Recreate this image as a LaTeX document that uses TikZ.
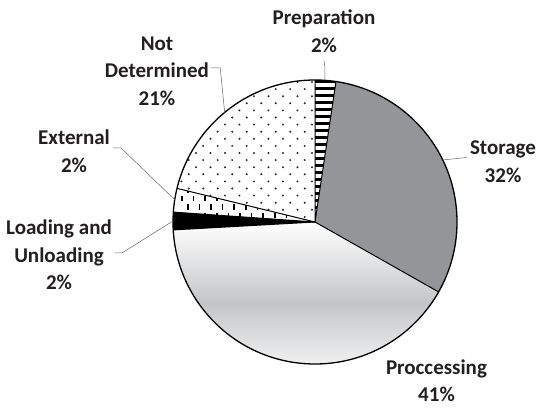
\documentclass[tikz,border=0pt]{standalone}
\usepackage{fontspec}
\setmainfont{Carlito}
\definecolor{storgray}{RGB}{147,149,152}
\definecolor{procmid}{RGB}{196,197,199}
\definecolor{txt}{RGB}{35,31,32}
\begin{document}
\begin{tikzpicture}[x=1pt,y=1pt,
  lbl/.style={font=\bfseries\fontsize{21}{27.5}\selectfont, align=center, text=txt, inner sep=0pt},
  leader/.style={draw=gray!80!black, line width=0.5pt},
  sliceline/.style={draw=black, line width=1pt, line join=round},
  rim/.style={draw=black, line width=1.3pt}]
\useasboundingbox (0,0) rectangle (538,407);
\coordinate (c) at (315,185);
\def\R{142}
\begin{scope}[shift={(c)}]
  % Processing (gradient)
  \shade[top color=white, bottom color=white, middle color=procmid]
    (0,0) -- (-29.5:\R) arc (-29.5:-176.8:\R) -- cycle;
  % Storage
  \fill[storgray] (0,0) -- (81.5:\R) arc (81.5:-29.5:\R) -- cycle;
  % Loading and Unloading
  \fill[black] (0,0) -- (176:\R) arc (176:183.2:\R) -- cycle;
  % Preparation stripes
  \begin{scope}
    \clip (0,0) -- (81.5:\R) arc (81.5:90:\R) -- cycle;
    \fill[white] (-5,-5) rectangle (40,150);
    \foreach \k in {0,...,21} {
      \fill[black] (-5,{142-7*\k}) rectangle (40,{142-7*\k-3.4});
    }
  \end{scope}
  % Not Determined dots
  \begin{scope}
    \clip (0,0) -- (90:\R) arc (90:166.3:\R) -- cycle;
    \foreach \k in {-4,...,17} {
      \pgfmathsetmacro\yy{118.7-7.1*\k}
      \pgfmathsetmacro\xo{-68.3+7.25*mod(\k+100,2)}
      \foreach \m in {-7,...,6} {
        \fill[black!85] ({\xo+14.5*\m},\yy) circle (1.1);
      }
    }
  \end{scope}
  % External dashes
  \begin{scope}
    \clip (0,0) -- (166.3:\R) arc (166.3:176:\R) -- cycle;
    \foreach \k in {-1,...,4} {
      \pgfmathsetmacro\yy{26-8.5*\k}
      \pgfmathsetmacro\xo{-133+5.8*mod(\k+100,2)}
      \foreach \m in {0,...,12} {
        \fill[black] ({\xo+11.6*\m-0.8},\yy) rectangle ++(1.6,-5.5);
      }
    }
  \end{scope}
  % slice borders
  \draw[sliceline] (90:\R) -- (0,0) -- (81.5:\R);
  \draw[sliceline] (0,0) -- (-29.5:\R);
  \draw[sliceline] (0,0) -- (-176.8:\R);
  \draw[sliceline] (0,0) -- (176:\R);
  \draw[sliceline] (0,0) -- (166.3:\R);
  \draw[rim] (0,0) circle (\R);
  % leader end points on the rim
  \coordinate (pPrep) at (86:\R);
  \coordinate (pStor) at (25.9:\R);
  \coordinate (pND)   at (129.5:\R);
  \coordinate (pExt)  at (171:\R);
  \coordinate (pLoad) at (179.6:\R);
\end{scope}
% labels
\node[lbl] (prep) at (324,376) {Preparation\\2\%};
\node[lbl] (stor) at (503,245.5) {Storage\\32\%};
\node[lbl] (nd)   at (157,336) {Not\\Determined\\21\%};
\node[lbl] (ext)  at (74,256) {External\\2\%};
\node[lbl] (load) at (59,152) {Loading and\\Unloading\\2\%};
\node[lbl] (proc) at (436.5,26.5) {Proccessing\\41\%};
% leaders
\draw[leader] ([yshift=-8pt]prep.south) -- ++(1,-7) -- (pPrep);
\draw[leader] ([shift={(-3pt,4pt)}]stor.west) -- (pStor);
\draw[leader] ([xshift=2pt,yshift=3pt]nd.east) -- ++(9,0) -- (pND);
\draw[leader] ([xshift=3pt,yshift=3pt]ext.east) -- ++(8,0) -- (pExt);
\draw[leader] ([xshift=3pt,yshift=2pt]load.east) -- ++(7,0) -- (pLoad);
\end{tikzpicture}
\end{document}
